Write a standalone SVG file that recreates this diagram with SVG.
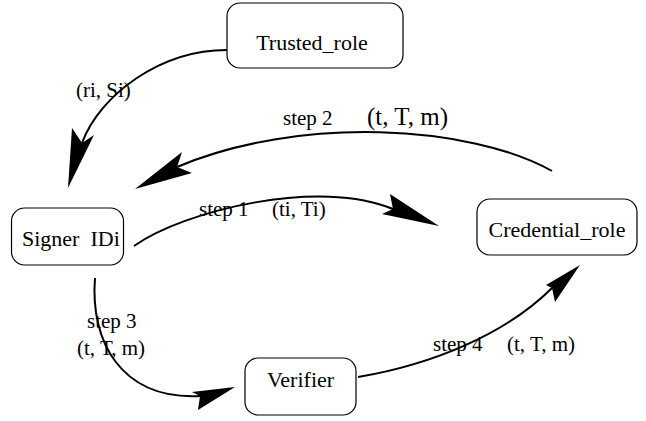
<svg xmlns="http://www.w3.org/2000/svg" width="646" height="421" viewBox="0 0 646 421">
<style>
  .box { fill: #ffffff; stroke: #000000; stroke-width: 1.2; }
  .node { font-family: "Liberation Serif", "Times New Roman", serif; font-size: 22px; fill: #000; }
  .lbl { font-family: "Liberation Serif", "Times New Roman", serif; font-size: 21px; fill: #000; }
  .edge { fill: none; stroke: #000; stroke-width: 2; }
  .head { fill: #000; stroke: none; }
</style>
<rect width="646" height="421" fill="#ffffff"/>
<g id="connectors">
  <path class="edge" d="M227,50 C160,50 100,95 82,143"/>
  <polygon class="head" points="68,188 72,128 82,143 94,135"/>
  <path class="edge" d="M552,171 C470,125 300,115 177,167"/>
  <polygon class="head" points="135,189 182,152 177,167 192,173"/>
  <path class="edge" d="M134,246 C185,210 320,178 393,209"/>
  <polygon class="head" points="439,226 390,194 393,209 382,214"/>
  <path class="edge" d="M95,278 C90,340 120,400 200,396"/>
  <polygon class="head" points="235,387 192,392 200,396 198,410"/>
  <path class="edge" d="M358,377 C430,365 505,335 552,288"/>
  <polygon class="head" points="580,265 546,285 552,288 555,302"/>
  <text class="lbl" x="76" y="97" font-size="22">(ri, Si)</text>
  <text class="lbl" x="283" y="125">step 2</text>
  <text class="lbl" x="367" y="125" style="font-size:25px">(t, T, m)</text>
  <text class="lbl" x="199" y="216">step 1</text>
  <text class="lbl" x="272" y="216">(ti, Ti)</text>
  <text class="lbl" x="87" y="328">step 3</text>
  <text class="lbl" x="77" y="355">(t, T, m)</text>
  <text class="lbl" x="433" y="351">step 4</text>
  <text class="lbl" x="507" y="351">(t, T, m)</text>
</g>
<g id="trusted_role">
  <rect class="box" x="227" y="3" width="176" height="65" rx="13"/>
  <text class="node" x="312" y="50" text-anchor="middle">Trusted_role</text>
</g>
<g id="signer">
  <rect class="box" x="11.5" y="208" width="112" height="57" rx="13"/>
  <text class="node" x="22" y="246" xml:space="preserve">Signer  IDi</text>
</g>
<g id="credential_role">
  <rect class="box" x="477" y="199" width="160" height="56" rx="13"/>
  <text class="node" x="557" y="237" text-anchor="middle">Credential_role</text>
</g>
<g id="verifier">
  <rect class="box" x="245" y="358" width="111" height="57" rx="13"/>
  <text class="node" x="300.5" y="387" text-anchor="middle">Verifier</text>
</g>
</svg>
